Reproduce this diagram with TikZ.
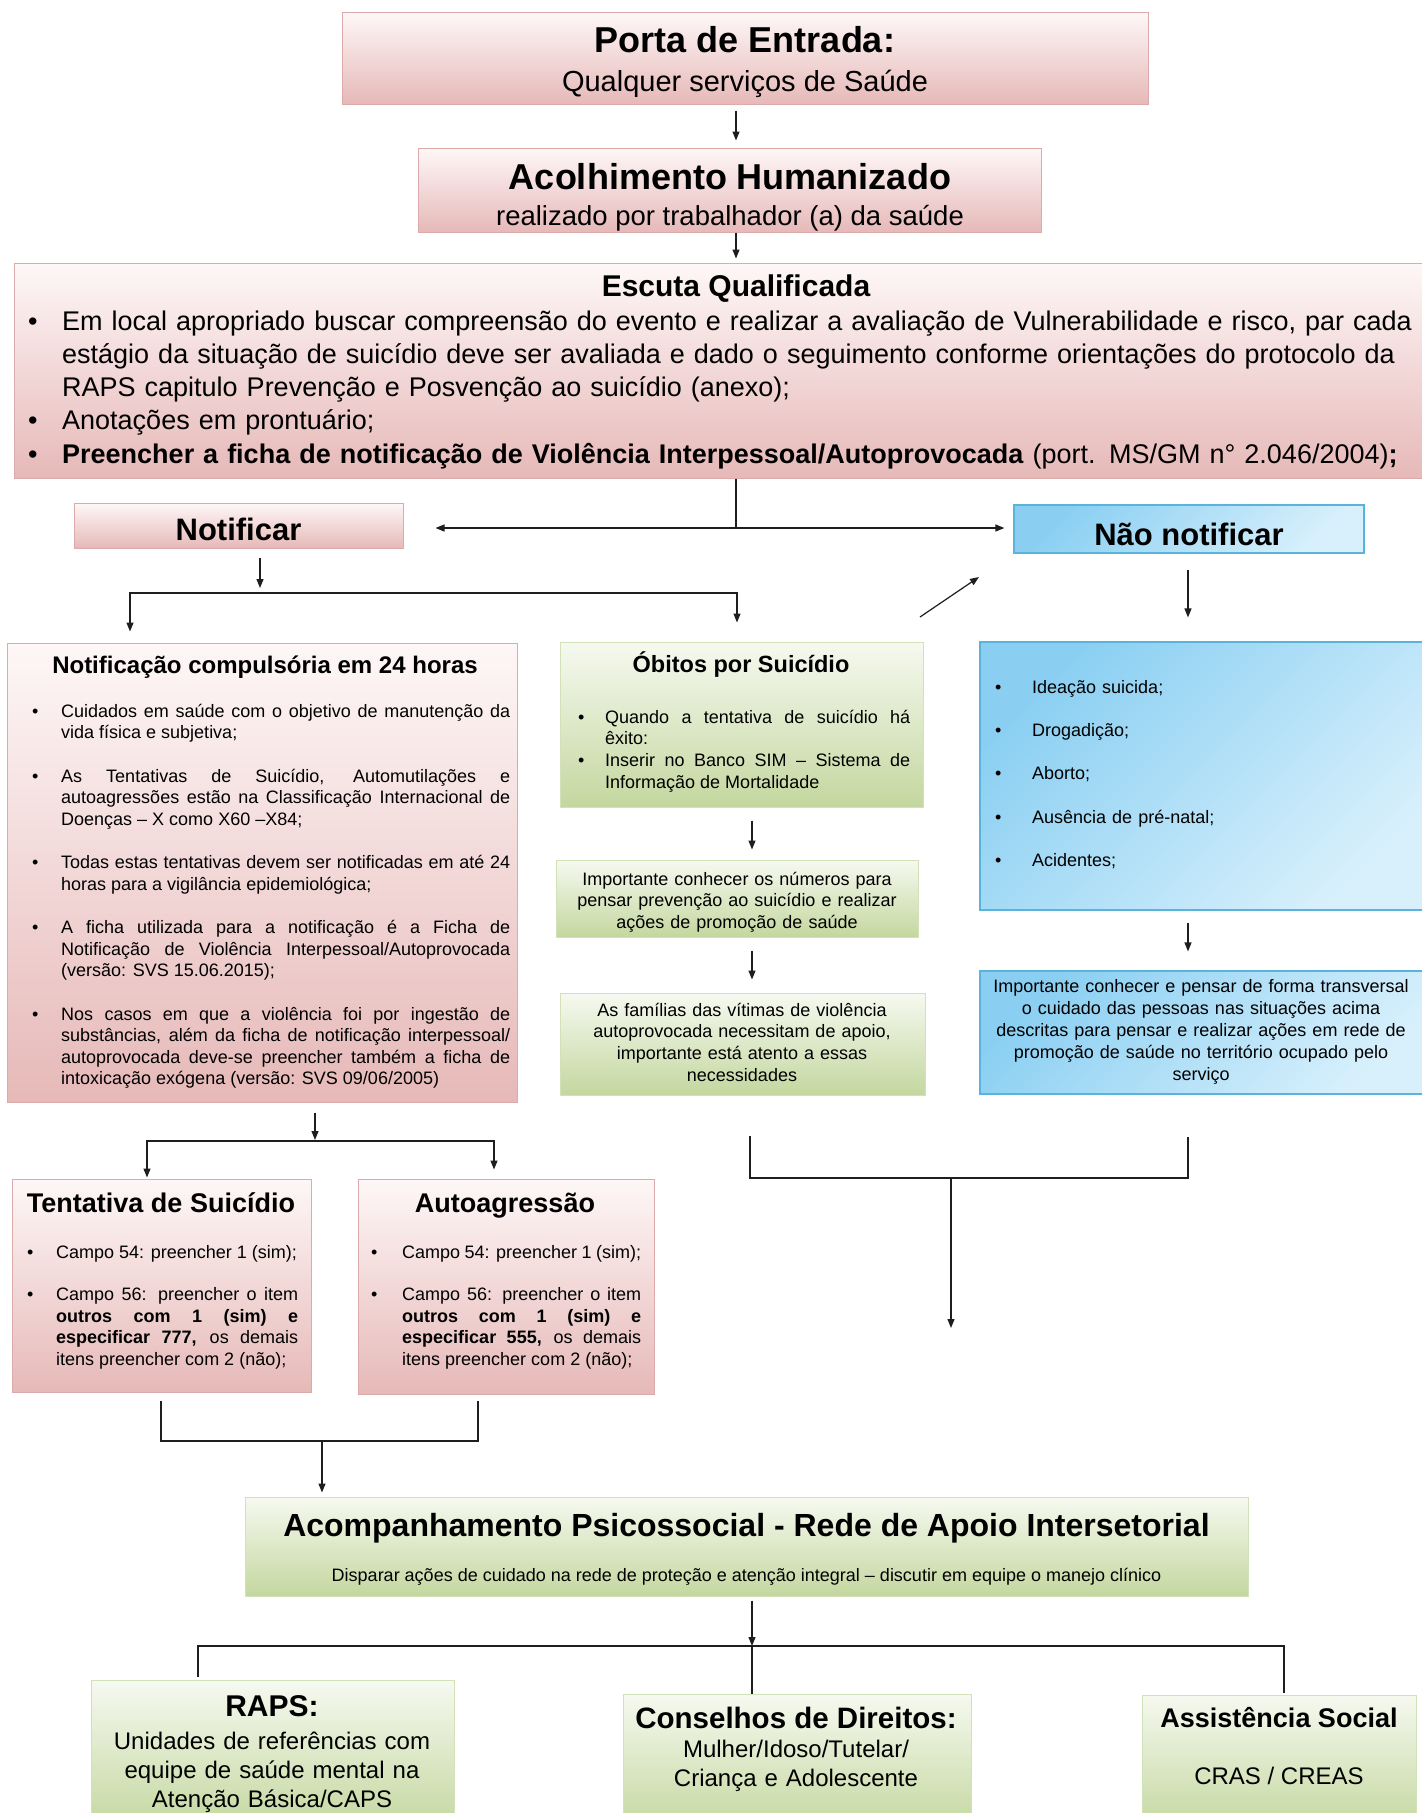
\documentclass[tikz,border=0pt]{standalone}
\usepackage{fontspec}
\setmainfont{Liberation Sans}
\usetikzlibrary{arrows.meta,fit,calc}
\definecolor{pinkT}{HTML}{FEF7F7}
\definecolor{pinkD}{HTML}{E6B9B8}
\definecolor{pinkE}{HTML}{DCAAAA}
\definecolor{greenT}{HTML}{F6F9F0}
\definecolor{greenD}{HTML}{C4D79F}
\definecolor{greenE}{HTML}{D2E1B8}
\definecolor{blueT}{HTML}{8ACFF2}
\definecolor{blueD}{HTML}{D8F0FC}
\definecolor{blueE}{HTML}{5AB4D9}
\definecolor{lineC}{HTML}{1E1E1E}
\tikzset{
 pinkbox/.style={draw=pinkE, line width=1pt, top color=pinkT, bottom color=pinkD, inner sep=0pt},
 greenbox/.style={draw=greenE, line width=1pt, top color=greenT, bottom color=greenD, inner sep=0pt},
 bluebox/.style={draw=blueE, line width=1.2pt, top color=blueT, bottom color=blueD, shading angle=45, inner sep=0pt},
 conn/.style={draw=lineC, line width=1.2pt},
 arr/.style={conn, -{Triangle[length=9pt,width=7pt]}},
 txt/.style={inner sep=0pt, anchor=base, text=black},
 para/.style={inner sep=0pt, anchor=north west, text=black},
 cpara/.style={inner sep=0pt, anchor=north, align=center, text=black},
}
\newcommand\fs[2]{\fontsize{#1}{#2}\selectfont}
\newcommand\bul[1]{\hangindent=#1pt\hangafter=1\noindent\makebox[#1pt][l]{\textbullet}}
\newcommand\tstrut{\rule{0pt}{0.9em}}
\newcommand\brk{\hfil\break}
\begin{document}
\begin{tikzpicture}[x=1pt,y=-1pt]
\useasboundingbox (0,0) rectangle (1422,1813);
\fill[white] (0,0) rectangle (1422,1813);

% ---------- boxes ----------
\node[pinkbox, fit={(342,12) (1148,104)}] (porta) {};
\node[pinkbox, fit={(418,148) (1041,232)}] (acol) {};
\node[pinkbox, fit={(14,263) (1428,478)}] (esc) {};
\node[pinkbox, fit={(74,503) (403,548)}] (notif) {};
\node[bluebox, fit={(1014,505) (1364,553)}] (nnot) {};
\node[pinkbox, fit={(7,643) (517,1102)}] (comp) {};
\node[greenbox, fit={(560,642) (923,807)}] (obit) {};
\node[greenbox, fit={(556,860) (918,937)}] (obit2) {};
\node[greenbox, fit={(560,993) (925,1095)}] (obit3) {};
\node[bluebox, fit={(980,642) (1428,910)}] (blue1) {};
\node[bluebox, fit={(980,971) (1428,1094)}] (blue2) {};
\node[pinkbox, fit={(12,1179) (311,1392)}] (tent) {};
\node[pinkbox, fit={(358,1179) (654,1394)}] (auto) {};
\node[greenbox, fit={(245,1497) (1248,1596)}] (acomp) {};
\node[greenbox, fit={(91,1680) (454,1830)}] (raps) {};
\node[greenbox, fit={(623,1694) (971,1830)}] (cons) {};
\node[greenbox, fit={(1142,1695) (1416,1830)}] (assist) {};

% ---------- texts ----------
\node[txt, font=\fs{36}{43}\bfseries] (portaT) at (745,52) {Porta de Entrada:};
\node[txt, font=\fs{29}{34}] (portaS) at (745,91) {Qualquer serviços de Saúde};
\node[txt, font=\fs{36}{43}\bfseries] (acolT) at (730,189) {Acolhimento Humanizado};
\node[txt, font=\fs{27.5}{33}] (acolS) at (730,225) {realizado por trabalhador (a) da saúde};

\node[txt, font=\fs{30}{36}\bfseries] (escT) at (736,296) {Escuta Qualificada};
\node[para, text width=1390pt, align=left, font=\fs{27}{33.2}] (escB) at (28,305.7) {%
\setlength{\parskip}{0pt}%
\bul{34}\tstrut Em local apropriado buscar compreensão do evento e realizar a avaliação de Vulnerabilidade e risco, par cada\brk
estágio da situação de suicídio deve ser avaliada e dado o seguimento conforme orientações do protocolo da\brk
RAPS capitulo Prevenção e Posvenção ao suicídio (anexo);\par
\bul{34}Anotações em prontuário;\par
\bul{34}\textbf{Preencher a ficha de notificação de Violência Interpessoal/Autoprovocada} (port. MS/GM n° 2.046/2004)\textbf{;}\par};

\node[txt, font=\fs{31}{37}\bfseries] (notifT) at (238.5,540) {Notificar};
\node[txt, font=\fs{31}{37}\bfseries] (nnotT) at (1189,545) {Não notificar};

\node[txt, font=\fs{24}{29}\bfseries] (compT) at (265,673) {Notificação compulsória em 24 horas};
\node[para, text width=478pt, align=justify, font=\fs{18}{21.5}] (compB) at (32,700.8) {%
\setlength{\parskip}{22pt}%
\bul{29}\tstrut Cuidados em saúde com o objetivo de manutenção da\linebreak vida física e subjetiva;\par
\bul{29}As Tentativas de Suicídio, Automutilações e\linebreak autoagressões estão na Classificação Internacional de\linebreak Doenças – X como X60 –X84;\par
\bul{29}Todas estas tentativas devem ser notificadas em até 24\linebreak horas para a vigilância epidemiológica;\par
\bul{29}A ficha utilizada para a notificação é a Ficha de\linebreak Notificação de Violência Interpessoal/Autoprovocada\linebreak (versão: SVS 15.06.2015);\par
\bul{29}Nos casos em que a violência foi por ingestão de\linebreak substâncias, além da ficha de notificação interpessoal/\linebreak autoprovocada deve-se preencher também a ficha de\linebreak intoxicação exógena (versão: SVS 09/06/2005)\par};

\node[txt, font=\fs{23.5}{28}\bfseries] (obitT) at (741,672) {Óbitos por Suicídio};
\node[para, text width=332pt, align=justify, font=\fs{18}{21.7}] (obitB) at (578,706.8) {%
\setlength{\parskip}{0pt}%
\bul{27}\tstrut Quando a tentativa de suicídio há\linebreak êxito:\par
\bul{27}Inserir no Banco SIM – Sistema de\linebreak Informação de Mortalidade\par};
\node[cpara, text width=360pt, font=\fs{18}{21.5}] (obit2T) at (737,868.8) {\tstrut Importante conhecer os números para\\ pensar prevenção ao suicídio e realizar\\ ações de promoção de saúde};
\node[cpara, text width=360pt, font=\fs{18}{21.7}] (obit3T) at (742,999.8) {\tstrut As famílias das vítimas de violência\\ autoprovocada necessitam de apoio,\\ importante está atento a essas\\ necessidades};

\node[para, text width=420pt, align=left, font=\fs{18}{21.7}] (blue1T) at (995,676.8) {%
\setlength{\parskip}{21.6pt}%
\bul{37}\tstrut Ideação suicida;\par
\bul{37}Drogadição;\par
\bul{37}Aborto;\par
\bul{37}Ausência de pré-natal;\par
\bul{37}Acidentes;\par};
\node[cpara, text width=440pt, font=\fs{18}{22}] (blue2T) at (1201,975.8) {\tstrut Importante conhecer e pensar de forma transversal\\ o cuidado das pessoas nas situações acima\\ descritas para pensar e realizar ações em rede de\\ promoção de saúde no território ocupado pelo\\ serviço};

\node[txt, font=\fs{27}{32}\bfseries] (tentT) at (161,1212) {Tentativa de Suicídio};
\node[para, text width=271pt, align=justify, font=\fs{18}{21.8}] (tentB) at (27,1241.8) {%
\setlength{\parskip}{20.2pt}%
\bul{29}\tstrut Campo 54: preencher 1 (sim);\par
\bul{29}Campo 56: preencher o item\linebreak \textbf{outros com 1 (sim) e}\linebreak \textbf{especificar 777,} os demais\linebreak itens preencher com 2 (não);\par};
\node[txt, font=\fs{27}{32}\bfseries] (autoT) at (505,1212) {Autoagressão};
\node[para, text width=270pt, align=justify, font=\fs{18}{21.8}] (autoB) at (371,1241.8) {%
\setlength{\parskip}{20.2pt}%
\bul{31}\tstrut Campo 54: preencher 1 (sim);\par
\bul{31}Campo 56: preencher o item\linebreak \textbf{outros com 1 (sim) e}\linebreak \textbf{especificar 555,} os demais\linebreak itens preencher com 2 (não);\par};

\node[txt, font=\fs{32}{38}\bfseries] (acompT) at (746.5,1536) {Acompanhamento Psicossocial - Rede de Apoio Intersetorial};
\node[txt, font=\fs{18}{22}] (acompS) at (746.5,1581) {Disparar ações de cuidado na rede de proteção e atenção integral – discutir em equipe o manejo clínico};

\node[txt, font=\fs{30}{36}\bfseries] (rapsT) at (272,1716) {RAPS:};
\node[cpara, text width=360pt, font=\fs{24}{29}] (rapsB) at (272,1727.4) {\tstrut Unidades de referências com\\ equipe de saúde mental na\\ Atenção Básica/CAPS};
\node[txt, font=\fs{29.5}{35}\bfseries] (consT) at (796,1728) {Conselhos de Direitos:};
\node[cpara, text width=340pt, font=\fs{24}{29}] (consB) at (796,1735.4) {\tstrut Mulher/Idoso/Tutelar/\\ Criança e Adolescente};
\node[txt, font=\fs{27}{32}\bfseries] (assistT) at (1279,1727) {Assistência Social};
\node[txt, font=\fs{24}{29}] (assistB) at (1279,1784) {CRAS / CREAS};

% ---------- connector helper coordinates ----------
\coordinate (a161) at (161,0);
\coordinate (a198) at (198,0);
\coordinate (a260) at (260,0);
\coordinate (a315) at (315,0);
\coordinate (a322) at (322,0);
\coordinate (a478) at (478,0);
\coordinate (a736) at (736,0);
\coordinate (a750) at (750,0);
\coordinate (a752) at (752,0);
\coordinate (a951) at (951,0);
\coordinate (a1188) at (1188,0);
\coordinate (a1284) at (1284,0);
\coordinate (split) at (736,528);
\coordinate (brL) at (130,593);
\coordinate (brR) at (737,593);
\coordinate (diagA) at (920,617);
\coordinate (diagB) at (979,577);
\coordinate (br2L) at (147,1141);
\coordinate (br2R) at (494,1141);
\coordinate (rb) at (0,1178);
\coordinate (rbEnd) at (951,1328);
\coordinate (lb) at (0,1441);
\coordinate (bb) at (0,1646);

% ---------- connectors ----------
\draw[arr, shorten <=6pt, shorten >=7pt] (porta.south -| a736) -- (acol.north -| a736);
\draw[arr, shorten >=4pt] (acol.south -| a736) -- (esc.north -| a736);
\draw[conn] (esc.south -| a736) -- (split);
\draw[arr, shorten >=32pt] (split) -- (notif.east |- split);
\draw[arr, shorten >=9pt] (split) -- (nnot.west |- split);

\draw[arr, shorten <=9pt, shorten >=5pt] (notif.south -| a260) -- (a260 |- brL);
\draw[arr, shorten >=11pt] (brR) -- (brL) -- (comp.north -| brL);
\draw[arr, shorten >=19pt] (brL) -- (brR) -- (obit.north -| brR);
\draw[arr] (diagA) -- (diagB);
\draw[arr, shorten <=16pt, shorten >=24pt] (nnot.south -| a1188) -- (blue1.north -| a1188);

\draw[arr, shorten <=13pt, shorten >=10pt] (obit.south -| a752) -- (obit2.north -| a752);
\draw[arr, shorten <=13pt, shorten >=13pt] (obit2.south -| a752) -- (obit3.north -| a752);
\draw[arr, shorten <=12pt, shorten >=19pt] (blue1.south -| a1188) -- (blue2.north -| a1188);

\draw[arr, shorten <=10pt, shorten >=1pt] (comp.south -| a315) -- (a315 |- br2L);
\draw[arr, shorten >=1pt] (br2R) -- (br2L) -- (tent.north -| br2L);
\draw[arr, shorten >=9pt] (br2L) -- (br2R) -- (auto.north -| br2R);

\draw[conn, shorten <=40pt, shorten >=42pt] (obit3.south -| a750) -- (a750 |- rb) -- (a1188 |- rb) -- (blue2.south -| a1188);
\draw[arr] (a951 |- rb) -- (rbEnd);

\draw[conn, shorten <=8pt, shorten >=6pt] (tent.south -| a161) -- (a161 |- lb) -- (a478 |- lb) -- (auto.south -| a478);
\draw[arr, shorten >=4pt] (a322 |- lb) -- (acomp.north -| a322);

\draw[arr, shorten <=4pt] (acomp.south -| a752) -- (a752 |- bb);
\draw[conn] (a752 |- bb) -- (cons.north -| a752);
\draw[conn, shorten <=3pt, shorten >=2pt] (raps.north -| a198) -- (a198 |- bb) -- (a1284 |- bb) -- (assist.north -| a1284);
\end{tikzpicture}
\end{document}
